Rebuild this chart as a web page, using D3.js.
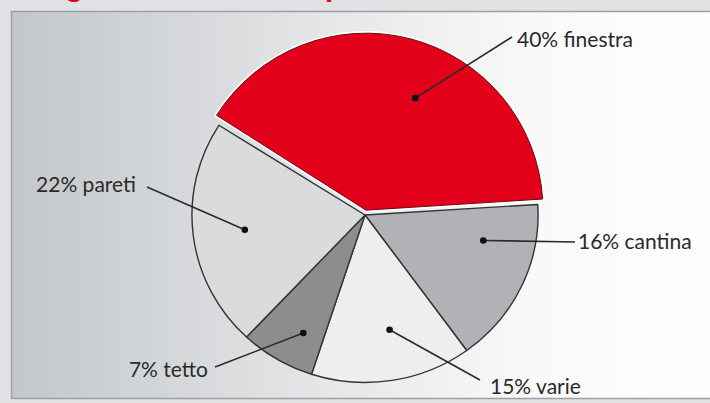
<!DOCTYPE html>
<html>
<head>
<meta charset="utf-8">
<script src="https://cdn.jsdelivr.net/npm/d3@7"></script>
<style>
  html, body { margin: 0; padding: 0; background: #e0e2e4; }
  svg { display: block; }
</style>
</head>
<body>
<div id="chart"></div>
<script>
// data
var categories = ["finestra", "cantina", "varie", "tetto", "pareti"];
var values = [40, 16, 15, 7, 22];
var colors = ["#e2001a", "#b0b2b5", "#eeeeef", "#8c8d8f", "#d9dbdd"];
var title = "Le grandi fonti di dispersione";

// layout for the callouts (leader end point, text offset, anchor, where the dot sits)
var callouts = [
  { end: [512, 37], dx: 5, dy: 10, anchor: "start", shift: 0.565, rad: 0.72 },
  { end: [575, 242], dx: 3, dy: 7, anchor: "start", shift: 0.28, rad: 0.7 },
  { end: [480, 380], dx: 10, dy: 14, anchor: "start", shift: 0.45, rad: 0.7 },
  { end: [215, 367], dx: -7, dy: 10, anchor: "end", shift: 0.35, rad: 0.79 },
  { end: [147, 187], dx: -11, dy: 5, anchor: "end", shift: 0.5, rad: 0.7 }
];

var width = 710,
    height = 403,
    cx = 365,
    cy = 215,
    radius = 170,
    sx = 1.018,
    sy = 0.985;

var svg = d3.select("#chart").append("svg")
    .attr("width", width)
    .attr("height", height);

var grad = svg.append("defs").append("linearGradient")
    .attr("id", "bg")
    .attr("x1", "0%").attr("y1", "0%")
    .attr("x2", "100%").attr("y2", "0%");
grad.append("stop").attr("offset", "0%").attr("stop-color", "#c3c7ca");
grad.append("stop").attr("offset", "40%").attr("stop-color", "#e2e4e5");
grad.append("stop").attr("offset", "72%").attr("stop-color", "#f9f9f9");
grad.append("stop").attr("offset", "100%").attr("stop-color", "#ffffff");

// title, only its descenders peek in at the top
svg.append("text")
    .attr("x", 20)
    .attr("y", -5)
    .attr("font-family", "Liberation Sans, Arial, sans-serif")
    .attr("font-weight", "bold")
    .attr("font-size", 31)
    .attr("fill", "#e2001a")
    .text(title);

// panel
svg.append("rect")
    .attr("x", 11.5)
    .attr("y", 11.5)
    .attr("width", width + 10)
    .attr("height", 387)
    .attr("fill", "url(#bg)")
    .attr("stroke", "#9ea1a4")
    .attr("stroke-width", 1.5);

var startA = -57.6 * Math.PI / 180;

var pie = d3.pie()
    .sort(null)
    .startAngle(startA)
    .endAngle(startA + 2 * Math.PI)
    .value(function (d) { return d.value; });

var piedata = categories.map(function (c, i) {
    return { label: c, value: values[i], color: colors[i] };
});

var arcs = pie(piedata);

var arc = d3.arc()
    .innerRadius(0)
    .outerRadius(radius);

var bigR = radius + 7;
var bigArc = d3.arc()
    .innerRadius(0)
    .outerRadius(bigR);

// the exploded slice moves out along its bisector
var redMid = (arcs[0].startAngle + arcs[0].endAngle) / 2;
var ox = Math.sin(redMid) * 4,
    oy = -Math.cos(redMid) * 5;

var rest = svg.append("g")
    .attr("transform", "translate(" + cx + "," + cy + ") scale(" + sx + "," + sy + ")");

rest.selectAll("path.slice")
    .data(arcs.slice(1))
    .enter().append("path")
    .attr("class", "slice")
    .attr("fill", function (d) { return d.data.color; })
    .attr("stroke", "#333")
    .attr("stroke-width", 1.4)
    .attr("vector-effect", "non-scaling-stroke")
    .attr("stroke-linejoin", "round")
    .attr("d", arc);

var redG = svg.append("g")
    .attr("transform", "translate(" + (cx + ox) + "," + (cy + oy) + ")");

// white halo makes the gap round the exploded slice
redG.selectAll("path.halo")
    .data(arcs.slice(0, 1))
    .enter().append("path")
    .attr("class", "halo")
    .attr("fill", "none")
    .attr("stroke", "#ffffff")
    .attr("stroke-width", 4)
    .attr("stroke-linejoin", "round")
    .attr("d", bigArc);

redG.selectAll("path.red")
    .data(arcs.slice(0, 1))
    .enter().append("path")
    .attr("class", "red")
    .attr("fill", function (d) { return d.data.color; })
    .attr("stroke", "#6d0a12")
    .attr("stroke-width", 1)
    .attr("stroke-linejoin", "round")
    .attr("d", bigArc);

// leader lines + dots + labels
arcs.forEach(function (d, i) {
    var c = callouts[i];
    var a = d.startAngle + (d.endAngle - d.startAngle) * c.shift;
    var px, py;
    if (i === 0) {
        px = cx + ox + Math.sin(a) * c.rad * radius;
        py = cy + oy - Math.cos(a) * c.rad * radius;
    } else {
        px = cx + Math.sin(a) * c.rad * radius * sx;
        py = cy - Math.cos(a) * c.rad * radius * sy;
    }

    svg.append("line")
        .attr("x1", px).attr("y1", py)
        .attr("x2", c.end[0]).attr("y2", c.end[1])
        .attr("stroke", "#2b2b2b")
        .attr("stroke-width", 1.6);

    svg.append("circle")
        .attr("cx", px).attr("cy", py)
        .attr("r", 3.3)
        .attr("fill", "#111");

    svg.append("text")
        .attr("x", c.end[0] + c.dx)
        .attr("y", c.end[1] + c.dy)
        .attr("text-anchor", c.anchor)
        .attr("font-family", "Lato, 'Open Sans', sans-serif")
        .attr("font-size", 21)
        .attr("fill", "#2a2a2a")
        .text(d.data.value + "% " + d.data.label);
});
</script>
</body>
</html>
